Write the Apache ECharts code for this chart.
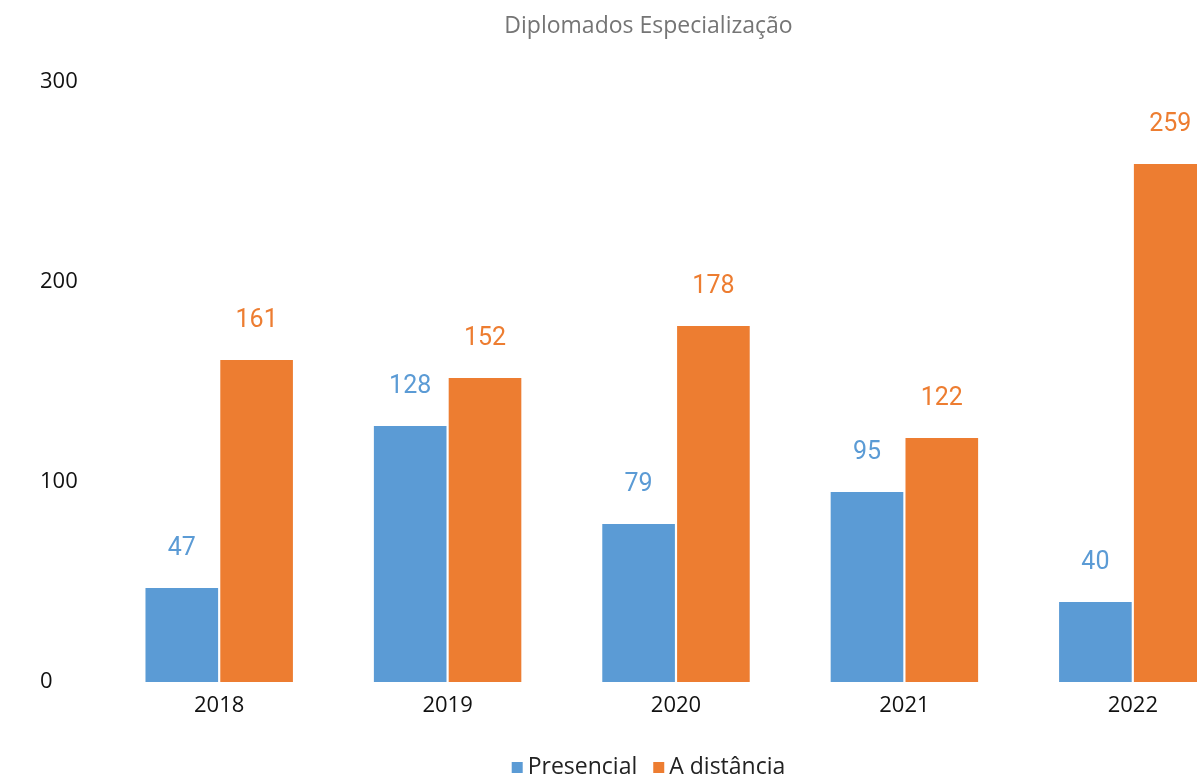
<!DOCTYPE html>
<html>
<head>
<meta charset="utf-8">
<script src="https://cdn.jsdelivr.net/npm/echarts@6/dist/echarts.min.js"></script>
<style>
  html, body { margin: 0; padding: 0; background: #fff; overflow: hidden; }
  #chart { width: 1297px; height: 776px; }
</style>
</head>
<body>
<div id="chart"></div>
<script>
var years = ['2018', '2019', '2020', '2021', '2022'];
var presencial = [47, 128, 79, 95, 40];
var distancia = [161, 152, 178, 122, 259];
var yTicks = [0, 100, 200, 300];

var blue = '#5B9BD5';
var orange = '#ED7D31';

// the original chart is wider than the window and cut off on the right
var echart = echarts.init(document.getElementById('chart'));

var labelStyle = function(color) {
  return {
    show: true,
    position: 'top',
    distance: 27,
    color: color,
    fontFamily: 'Roboto',
    fontSize: 25
  };
};

echart.setOption({
  animation: false,
  title: {
    text: 'Diplomados Especialização',
    left: 'center',
    top: 10,
    textStyle: {
      color: '#757575',
      fontFamily: 'Open Sans',
      fontWeight: 'normal',
      fontSize: 23
    }
  },
  legend: {
    left: 'center',
    top: 751,
    icon: 'rect',
    itemWidth: 11,
    itemHeight: 11,
    itemGap: 16,
    textStyle: {
      color: '#222',
      fontFamily: 'Open Sans',
      fontSize: 23,
      padding: [0, 0, 0, 0]
    },
    data: ['Presencial', 'A distância']
  },
  grid: {
    left: 105,
    right: 50,
    top: 82,
    bottom: 94,
    containLabel: false
  },
  xAxis: {
    type: 'category',
    data: years,
    axisLine: { show: false },
    axisTick: { show: false },
    axisLabel: {
      color: '#111',
      fontFamily: 'Open Sans',
      fontSize: 22,
      margin: 13
    }
  },
  yAxis: {
    type: 'value',
    min: yTicks[0],
    max: yTicks[yTicks.length - 1],
    interval: 100,
    splitLine: { show: false },
    axisLine: { show: false },
    axisTick: { show: false },
    axisLabel: {
      align: 'left',
      margin: 65,
      color: '#111',
      fontFamily: 'Open Sans',
      fontSize: 22
    }
  },
  series: [
    {
      name: 'Presencial',
      type: 'bar',
      barWidth: '31.8%',
      barGap: '3%',
      itemStyle: { color: blue },
      label: labelStyle(blue),
      data: presencial
    },
    {
      name: 'A distância',
      type: 'bar',
      barWidth: '31.8%',
      barGap: '3%',
      itemStyle: { color: orange },
      label: labelStyle(orange),
      data: distancia
    }
  ]
});
</script>
</body>
</html>
